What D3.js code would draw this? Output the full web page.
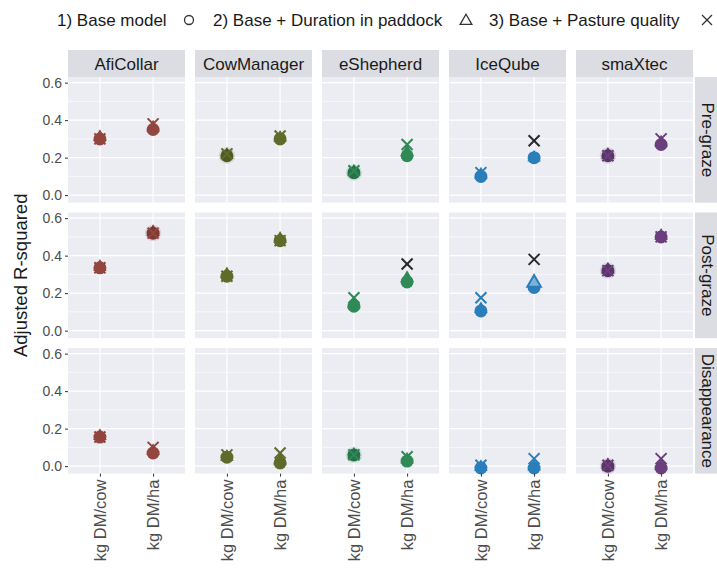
<!DOCTYPE html>
<html>
<head>
<meta charset="utf-8">
<script src="https://cdn.jsdelivr.net/npm/d3@7"></script>
<style>
  html, body { margin: 0; padding: 0; background: #ffffff; }
  svg { display: block; font-family: "Liberation Sans", Arial, sans-serif; }
</style>
</head>
<body>
<svg id="chart" width="717" height="569"></svg>
<script>
// Facet levels
const devices = ["AfiCollar", "CowManager", "eShepherd", "IceQube", "smaXtec"];
const deviceColours = ["#93463f", "#5f6b2a", "#2f8a57", "#2a7fba", "#6b3f7c"];
const responses = ["Pre-graze", "Post-graze", "Disappearance"];
const units = ["kg DM/cow", "kg DM/ha"];
const models = ["1) Base model", "2) Base + Duration in paddock", "3) Base + Pasture quality"];
const yTicks = [0, 0.2, 0.4, 0.6];
const yMinor = [0.1, 0.3, 0.5];

// Adjusted R-squared, ordered device by device: kg DM/cow, kg DM/ha
const preBase      = [0.300, 0.350, 0.210, 0.300, 0.120, 0.210, 0.100, 0.200, 0.210, 0.270];
const preDuration  = [0.310, 0.360, 0.215, 0.305, 0.125, 0.230, 0.110, 0.200, 0.215, 0.280];
const prePasture   = [0.300, 0.380, 0.220, 0.315, 0.130, 0.270, 0.120, 0.290, 0.210, 0.300];

const postBase     = [0.335, 0.520, 0.290, 0.480, 0.130, 0.260, 0.105, 0.230, 0.320, 0.500];
const postDuration = [0.340, 0.525, 0.300, 0.490, 0.140, 0.280, 0.115, 0.255, 0.325, 0.505];
const postPasture  = [0.335, 0.520, 0.290, 0.480, 0.175, 0.355, 0.175, 0.380, 0.320, 0.500];

const disBase      = [0.155, 0.070, 0.048, 0.017, 0.060, 0.027, -0.010, -0.010, 0.000, -0.010];
const disDuration  = [0.160, 0.080, 0.050, 0.030, 0.060, 0.035, -0.005, -0.003, 0.005, 0.000];
const disPasture   = [0.155, 0.100, 0.060, 0.070, 0.060, 0.050, 0.005, 0.040, 0.005, 0.040];

// Pasture-quality estimates drawn in black
const blackCrosses = [
  ["IceQube", "Pre-graze", "kg DM/ha"],
  ["eShepherd", "Post-graze", "kg DM/ha"],
  ["IceQube", "Post-graze", "kg DM/ha"]
];
// Estimates shown with a soft halo
const haloPoints = [
  ["CowManager", "Pre-graze", "kg DM/cow"],
  ["eShepherd", "Pre-graze", "kg DM/cow"],
  ["smaXtec", "Pre-graze", "kg DM/cow"],
  ["AfiCollar", "Post-graze", "kg DM/ha"],
  ["smaXtec", "Post-graze", "kg DM/cow"],
  ["eShepherd", "Disappearance", "kg DM/cow"],
  ["smaXtec", "Disappearance", "kg DM/cow"]
];
// Duration-in-paddock estimate drawn as an outline
const hollowTriangles = [["IceQube", "Post-graze", "kg DM/ha"]];

const seriesByResponse = [
  [preBase, preDuration, prePasture],
  [postBase, postDuration, postPasture],
  [disBase, disDuration, disPasture]
];

const rows = [];
responses.forEach((resp, ri) => {
  devices.forEach((dev, di) => {
    units.forEach((u, ui) => {
      const k = di * 2 + ui;
      const hit = list => list.some(e => e[0] === dev && e[1] === resp && e[2] === u);
      rows.push({
        response: resp, device: dev, unit: u,
        base: seriesByResponse[ri][0][k],
        duration: seriesByResponse[ri][1][k],
        pasture: seriesByResponse[ri][2][k],
        black: hit(blackCrosses),
        halo: hit(haloPoints),
        hollow: hit(hollowTriangles)
      });
    });
  });
});

// Layout
const svg = d3.select("#chart");
const panelLeft = 68, panelW = 117, colPitch = 127;
const panelTop0 = 77, rowPitch = 135.5;
const yDomain = [-0.04, 0.63];
const pxPerUnit = 187.5;
const panelH = (yDomain[1] - yDomain[0]) * pxPerUnit;
const stripH = 27, stripW = 26;
const panelBg = "#ecedf3", stripBg = "#dcdde2";

const colour = d3.scaleOrdinal().domain(devices).range(deviceColours);
const x = d3.scalePoint().domain(units).range([0, panelW]).padding(0.6);
const y = d3.scaleLinear().domain(yDomain).range([panelH, 0]);

const triangle = d3.symbol().type(d3.symbolTriangle).size(80);

responses.forEach((resp, ri) => {
  const top = panelTop0 + ri * rowPitch;

  devices.forEach((dev, di) => {
    const left = panelLeft + di * colPitch;
    const g = svg.append("g").attr("transform", `translate(${left},${top})`);

    g.append("rect").attr("width", panelW).attr("height", panelH).attr("fill", panelBg);

    g.selectAll("line.minor").data(yMinor).join("line")
      .attr("x1", 0).attr("x2", panelW)
      .attr("y1", d => y(d)).attr("y2", d => y(d))
      .attr("stroke", "#ffffff").attr("stroke-width", 0.6);
    g.selectAll("line.major").data(yTicks).join("line")
      .attr("x1", 0).attr("x2", panelW)
      .attr("y1", d => y(d)).attr("y2", d => y(d))
      .attr("stroke", "#ffffff").attr("stroke-width", 1.2);
    g.selectAll("line.vmajor").data(units).join("line")
      .attr("x1", d => x(d)).attr("x2", d => x(d))
      .attr("y1", 0).attr("y2", panelH)
      .attr("stroke", "#ffffff").attr("stroke-width", 1.2);

    const pts = rows.filter(r => r.response === resp && r.device === dev);
    const c = colour(dev);

    g.selectAll("circle.halo").data(pts.filter(p => p.halo)).join("circle")
      .attr("cx", d => x(d.unit)).attr("cy", d => y(d.base))
      .attr("r", 8.2).attr("fill", c).attr("opacity", 0.16);

    g.selectAll("circle.base").data(pts).join("circle")
      .attr("cx", d => x(d.unit)).attr("cy", d => y(d.base))
      .attr("r", 6.5).attr("fill", d => d.halo ? d3.color(c).darker(0.5) : c);

    g.selectAll("path.duration").data(pts).join("path")
      .attr("d", triangle)
      .attr("transform", d => `translate(${x(d.unit)},${y(d.duration)})`)
      .attr("fill", d => d.hollow ? d3.interpolateRgb(c, "#ffffff")(0.4) : (d.halo ? d3.color(c).darker(0.5) : c))
      .attr("stroke", d => d.hollow ? c : "none")
      .attr("stroke-width", 2);

    const crosses = g.selectAll("g.pasture").data(pts).join("g")
      .attr("transform", d => `translate(${x(d.unit)},${y(d.pasture)})`)
      .attr("stroke", d => d.black ? "#2a2a2a" : c)
      .attr("stroke-width", 2);
    crosses.append("line").attr("x1", -5.5).attr("y1", -5.5).attr("x2", 5.5).attr("y2", 5.5);
    crosses.append("line").attr("x1", -5.5).attr("y1", 5.5).attr("x2", 5.5).attr("y2", -5.5);

    // Column strip on the first row
    if (ri === 0) {
      const s = svg.append("g").attr("transform", `translate(${left},${top - stripH})`);
      s.append("rect").attr("width", panelW).attr("height", stripH).attr("fill", stripBg);
      s.append("text").attr("x", panelW / 2).attr("y", stripH / 2 + 6)
        .attr("text-anchor", "middle").attr("font-size", 17).attr("fill", "#1a1a1a")
        .text(dev);
    }

    // Unit axis under the last row
    if (ri === responses.length - 1) {
      const ax = svg.append("g").attr("transform", `translate(${left},${top + panelH})`)
        .call(d3.axisBottom(x).tickSize(3).tickPadding(3));
      ax.select(".domain").remove();
      ax.selectAll(".tick line").attr("stroke", "#333333");
      ax.selectAll(".tick text")
        .attr("font-size", 16.5).attr("fill", "#4d4d4d")
        .attr("transform", "rotate(-90)")
        .attr("text-anchor", "end")
        .attr("x", -6).attr("y", 0).attr("dy", "0.35em");
    }
  });

  // Row strip at the right
  const rs = svg.append("g").attr("transform", `translate(${panelLeft + 4 * colPitch + panelW + 2},${top})`);
  rs.append("rect").attr("width", stripW).attr("height", panelH).attr("fill", stripBg);
  rs.append("text")
    .attr("transform", `translate(${stripW / 2 - 6},${panelH / 2}) rotate(90)`)
    .attr("text-anchor", "middle").attr("font-size", 17).attr("fill", "#1a1a1a")
    .text(resp);

  // Y axis for the row
  const ay = svg.append("g").attr("transform", `translate(${panelLeft},${top})`)
    .call(d3.axisLeft(y).tickValues(yTicks).tickFormat(d3.format(".1f")).tickSize(3).tickPadding(3));
  ay.select(".domain").remove();
  ay.selectAll(".tick line").attr("stroke", "#333333");
  ay.selectAll(".tick text").attr("font-size", 14).attr("fill", "#4d4d4d");
});

// Y axis title
const plotMid = (panelTop0 + panelTop0 + 2 * rowPitch + panelH) / 2;
svg.append("text")
  .attr("transform", `translate(27,${plotMid}) rotate(-90)`)
  .attr("text-anchor", "middle").attr("font-size", 18.5).attr("fill", "#1a1a1a")
  .text("Adjusted R-squared");

// Legend: label followed by its key
const legendY = 20;
const legendItems = [
  { label: models[0], tx: 57, kx: 189, key: "circle" },
  { label: models[1], tx: 213, kx: 466, key: "triangle" },
  { label: models[2], tx: 489, kx: 707, key: "cross" }
];
const lg = svg.append("g");
legendItems.forEach(it => {
  lg.append("text").attr("x", it.tx).attr("y", legendY).attr("dy", "0.35em")
    .attr("font-size", 17).attr("fill", "#1a1a1a").text(it.label);
  if (it.key === "circle") {
    lg.append("circle").attr("cx", it.kx).attr("cy", legendY).attr("r", 4.5)
      .attr("fill", "none").attr("stroke", "#333333").attr("stroke-width", 1.3);
  } else if (it.key === "triangle") {
    lg.append("path").attr("d", d3.symbol().type(d3.symbolTriangle).size(60)())
      .attr("transform", `translate(${it.kx},${legendY + 1})`)
      .attr("fill", "none").attr("stroke", "#333333").attr("stroke-width", 1.3);
  } else {
    const cg = lg.append("g").attr("transform", `translate(${it.kx},${legendY})`)
      .attr("stroke", "#333333").attr("stroke-width", 1.3);
    cg.append("line").attr("x1", -5).attr("y1", -5).attr("x2", 5).attr("y2", 5);
    cg.append("line").attr("x1", -5).attr("y1", 5).attr("x2", 5).attr("y2", -5);
  }
});
</script>
</body>
</html>
